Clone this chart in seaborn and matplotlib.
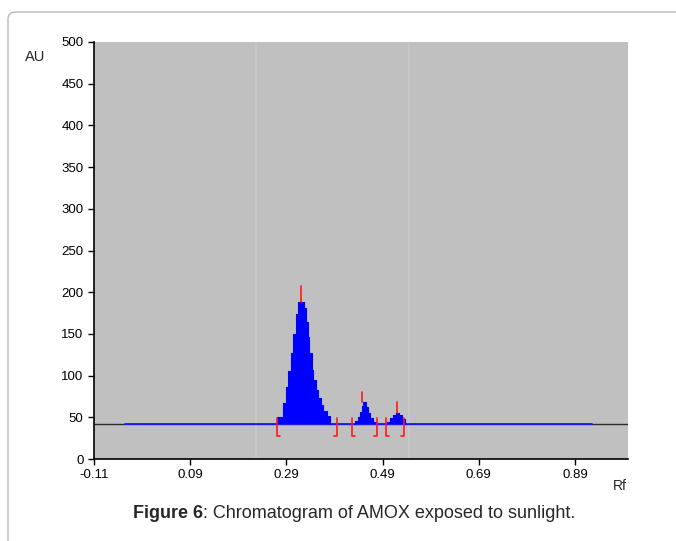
import numpy as np
import pandas as pd
import matplotlib
matplotlib.use("Agg")
import matplotlib.pyplot as plt
import seaborn as sns
from matplotlib.patches import FancyBboxPatch

# Chromatogram data (Rf vs absorbance units), stepped detector profile
baseline_au = 42
scan_start, scan_end = -0.046, 0.925

peak1_rf = [0.268, 0.270, 0.283, 0.289, 0.293, 0.300, 0.304, 0.310, 0.314, 0.327,
            0.331, 0.335, 0.337, 0.343, 0.345, 0.352, 0.356, 0.362, 0.366, 0.374, 0.381]
peak1_au = [42, 50, 67, 86, 106, 127, 150, 174, 188, 181,
            164, 146, 127, 107, 95, 83, 73, 65, 58, 52, 42]

peak2_rf = [0.431, 0.433, 0.439, 0.443, 0.447, 0.449, 0.455, 0.459, 0.463, 0.469, 0.478]
peak2_au = [42, 45, 50, 56, 63, 68, 62, 55, 49, 44, 42]

peak3_rf = [0.497, 0.499, 0.505, 0.511, 0.517, 0.524, 0.530, 0.537]
peak3_au = [42, 44, 49, 53, 55, 53, 48, 42]

# Peak apex markers (Rf, apex AU, marker top AU)
apex_rf = [0.320, 0.447, 0.519]
apex_au = [188, 68, 55]
apex_top = [208, 80, 68]

# Integration limits
start_rf = [0.270, 0.426, 0.497]
end_rf = [0.395, 0.478, 0.535]

x_ticks = [-0.11, 0.09, 0.29, 0.49, 0.69, 0.89]
y_ticks = list(range(0, 501, 50))

sns.set_style("ticks")
plt.rcParams["font.family"] = ["Liberation Sans", "DejaVu Sans"]

fig = plt.figure(figsize=(6.76, 5.41), dpi=100)
fig.patch.set_facecolor("white")

# rounded frame around the figure panel
frame = FancyBboxPatch((8 / 676, -0.1), 1.2, (541 - 12) / 541 + 0.1,
                       boxstyle="round,pad=0,rounding_size=0.012",
                       transform=fig.transFigure, facecolor="none",
                       edgecolor="#b8b8b8", linewidth=1.0, clip_on=False)
fig.patches.append(frame)

ax = fig.add_axes([94 / 676, 82 / 541, 534 / 676, 417 / 541])
ax.set_facecolor("#c0c0c0")

# faint track lines on the plate scan
for xv in [0.227, 0.545]:
    ax.axvline(xv, color="#c9c9c9", lw=1.2, zorder=0)

# baseline: black over the whole range, blue where scanned
sns.lineplot(x=[-0.11, 1.0], y=[baseline_au, baseline_au], color="#2a2a2a", lw=1.0, ax=ax)
sns.lineplot(x=[scan_start, scan_end], y=[baseline_au, baseline_au], color="#1a1aff", lw=1.3, ax=ax)

for rf, au in [(peak1_rf, peak1_au), (peak2_rf, peak2_au), (peak3_rf, peak3_au)]:
    df = pd.DataFrame({"Rf": rf, "AU": au})
    ax.fill_between(df["Rf"], baseline_au, df["AU"], step="post", color="#0000ff", lw=0, zorder=3)
    sns.lineplot(data=df, x="Rf", y="AU", drawstyle="steps-post", color="#0000ff", lw=0.8, ax=ax, zorder=3)

red = "#ff1a1a"
for x, a, t in zip(apex_rf, apex_au, apex_top):
    ax.plot([x, x], [a, t], color=red, lw=1.2, zorder=4)
foot = 0.006
for x in start_rf:
    ax.plot([x, x, x + foot], [49, 27, 27], color=red, lw=1.2, zorder=4)
for x in end_rf:
    ax.plot([x, x, x - foot], [49, 27, 27], color=red, lw=1.2, zorder=4)

ax.set_xlim(-0.11, 1.0)
ax.set_ylim(0, 500)
ax.set_xticks(x_ticks)
ax.set_xticklabels([f"{v:.2f}" for v in x_ticks])
ax.set_yticks(y_ticks)
ax.tick_params(axis="both", labelsize=9.5, length=4, width=1, colors="black")
for s in ["top", "right"]:
    ax.spines[s].set_visible(False)
for s in ["left", "bottom"]:
    ax.spines[s].set_color("black")
    ax.spines[s].set_linewidth(1.2)
ax.set_xlabel("")
ax.set_ylabel("")

fig.text(35 / 676, 1 - 57 / 541, "AU", fontsize=10.5, ha="center", va="center")
fig.text(620 / 676, 1 - 486 / 541, "Rf", fontsize=10, ha="center", va="center")

cap_y = 1 - 514 / 541
t1 = fig.text(133 / 676, cap_y, "Figure 6", fontsize=13, fontweight="bold", ha="left", va="center")
fig.canvas.draw()
bb = t1.get_window_extent()
fig.text(bb.x1 / fig.bbox.width, cap_y, ": Chromatogram of AMOX exposed to sunlight.",
         fontsize=13, ha="left", va="center")

fig.savefig("out.png", dpi=100)
